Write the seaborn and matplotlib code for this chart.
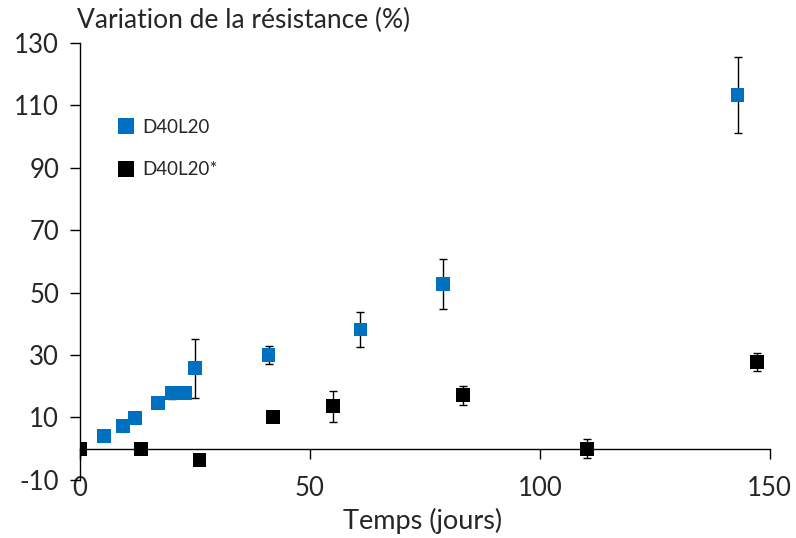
import numpy as np
import pandas as pd
import matplotlib
matplotlib.use("Agg")
import matplotlib.pyplot as plt
import seaborn as sns
from matplotlib.lines import Line2D

# Series D40L20
days_a = [5.2, 9.3, 12.0, 17.0, 20.0, 22.8, 25.0, 41.0, 61.0, 79.0, 143.0]
res_a = [4.1, 7.2, 9.8, 14.6, 17.8, 17.8, 25.8, 30.0, 38.2, 52.9, 113.3]
err_a = [0, 0, 0, 0, 1.8, 0, 9.5, 3.0, 5.5, 8.0, 12.2]

# Series D40L20*
days_b = [0.0, 13.3, 26.0, 42.0, 55.0, 83.3, 110.2, 147.2]
res_b = [0.0, 0.0, -3.6, 10.1, 13.6, 17.1, 0.0, 27.7]
err_b = [0, 0, 0, 0, 5.0, 3.0, 3.0, 2.9]

labels = ["D40L20", "D40L20*"]
colors = ["#0070C0", "#000000"]

x_ticks = [0, 50, 100, 150]
y_ticks = [-10, 10, 30, 50, 70, 90, 110, 130]

df = pd.DataFrame({
    "jours": days_a + days_b,
    "res": res_a + res_b,
    "err": err_a + err_b,
    "serie": [labels[0]] * len(days_a) + [labels[1]] * len(days_b),
})

sns.set_style("white")
plt.rcParams["font.family"] = ["Lato", "DejaVu Sans"]
plt.rcParams["axes.unicode_minus"] = False

fig = plt.figure(figsize=(7.96, 5.38), dpi=100)
ax = fig.add_axes([0.1005, 0.108, 0.8665, 0.812])

for lab in labels:
    sub = df[df["serie"] == lab]
    ax.errorbar(sub["jours"], sub["res"], yerr=sub["err"], fmt="none",
                ecolor="black", elinewidth=1.0, capsize=3.0, capthick=1.0,
                zorder=2)

sns.scatterplot(data=df, x="jours", y="res", hue="serie", palette=colors,
                hue_order=labels, marker="s", s=100, linewidth=0,
                ax=ax, zorder=3, legend=False)

ax.set_xlim(0, 150)
ax.set_ylim(-10, 130)
ax.set_xticks(x_ticks)
ax.set_yticks(y_ticks)
ax.set_xlabel("")
ax.set_ylabel("")

# Horizontal axis line drawn at y = 0, labels kept along the bottom
for side in ["right", "bottom"]:
    ax.spines[side].set_visible(False)
ax.spines["top"].set_position(("data", 0))
for side in ["left", "top"]:
    ax.spines[side].set_color("#000000")
    ax.spines[side].set_linewidth(1.0)

ax.tick_params(axis="x", top=True, bottom=False, labeltop=False,
               labelbottom=True, direction="in", length=7, width=1.0,
               color="black", labelsize=18.5, pad=-3)
ax.tick_params(axis="y", left=True, direction="out", length=7, width=1.0,
               color="black", labelsize=18.5, pad=8)
ax.grid(False)

# Legend
handles = [Line2D([], [], linestyle="none", marker="s", markersize=11,
                  markerfacecolor=c, markeredgewidth=0) for c in colors]
ax.legend(handles, labels, frameon=False, loc="upper left",
          bbox_to_anchor=(0.028, 0.865), fontsize=13.5, handletextpad=0.4,
          labelspacing=1.35, handlelength=1.0)

fig.text(77 / 796, 1 - 20 / 538, "Variation de la résistance (%)",
         ha="left", va="center", fontsize=19)
fig.text(423 / 796, 1 - 521 / 538, "Temps (jours)", ha="center",
         va="center", fontsize=19.5)

fig.savefig("out.png", dpi=100)
